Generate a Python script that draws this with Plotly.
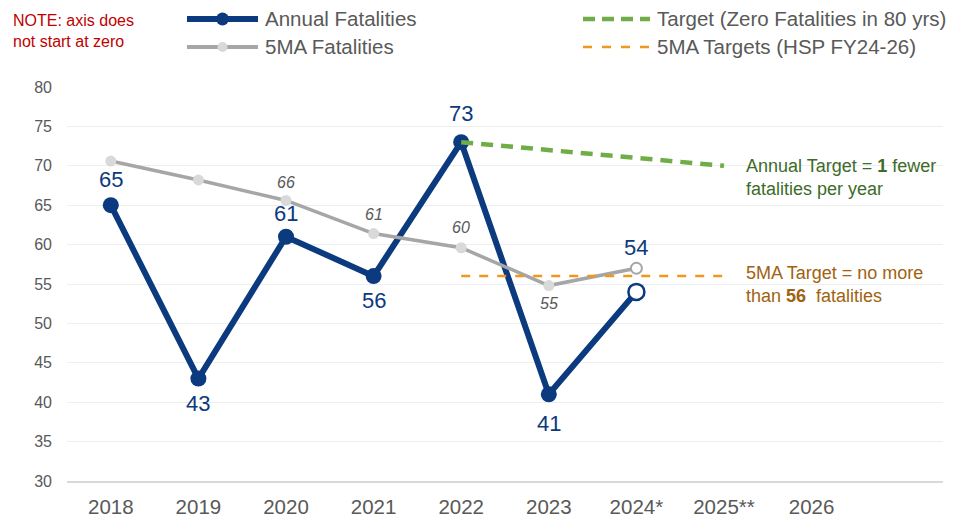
import plotly.graph_objects as go

# --- data -------------------------------------------------------------
years = ["2018", "2019", "2020", "2021", "2022", "2023", "2024*", "2025**", "2026"]

annual_years = ["2018", "2019", "2020", "2021", "2022", "2023", "2024*"]
annual_fatalities = [65, 43, 61, 56, 73, 41, 54]

ma_years = ["2018", "2019", "2020", "2021", "2022", "2023", "2024*"]
ma_fatalities = [70.6, 68.2, 65.6, 61.4, 59.6, 54.8, 57.0]
ma_labelled = [False, False, True, True, True, True, False]

target_years = ["2022", "2023", "2024*", "2025**"]
target_values = [73, 72, 71, 70]

ma_target_years = ["2022", "2023", "2024*", "2025**"]
ma_target_values = [56, 56, 56, 56]

# --- styling ----------------------------------------------------------
NAVY = "#0B3A7E"
GRAY_LINE = "#A6A6A6"
GRAY_DOT = "#D9D9D9"
GREEN = "#70AD47"
ORANGE = "#F0981E"
TEXT = "#595959"
FONT = "Liberation Sans, Arial, sans-serif"

W, H = 966, 517
ML, MR, MT, MB = 67, 23, 87, 36
PW, PH = W - ML - MR, H - MT - MB


def px(x):
    return (x - ML) / PW


def py(y):
    return (H - MB - y) / PH


def cat(label):
    # position of a category on the x axis
    return years.index(label)


fig = go.Figure()

# the last point of each measured series is provisional -> hollow marker
n = len(annual_fatalities)
fig.add_trace(go.Scatter(
    x=annual_years, y=annual_fatalities, mode="lines+markers",
    line=dict(color=NAVY, width=6),
    marker=dict(size=16, color=[NAVY] * (n - 1) + ["white"],
                line=dict(color=NAVY, width=[0] * (n - 1) + [2.5])),
    showlegend=False, hoverinfo="x+y"))

m = len(ma_fatalities)
fig.add_trace(go.Scatter(
    x=ma_years, y=ma_fatalities, mode="lines+markers",
    line=dict(color=GRAY_LINE, width=3.5),
    marker=dict(size=11, color=[GRAY_DOT] * (m - 1) + ["white"],
                line=dict(color=GRAY_LINE, width=[0] * (m - 1) + [2])),
    showlegend=False, hoverinfo="x+y"))

fig.add_trace(go.Scatter(
    x=target_years, y=target_values, mode="lines",
    line=dict(color=GREEN, width=4.5, dash="12px,8px"),
    showlegend=False, hoverinfo="x+y"))

fig.add_trace(go.Scatter(
    x=ma_target_years, y=ma_target_values, mode="lines",
    line=dict(color=ORANGE, width=2.5, dash="9px,9px"),
    showlegend=False, hoverinfo="x+y"))

annotations = []

# value labels on the annual series (above / below the point)
annual_shift = [26, -25, 23, -24, 29, -29, 44]
for x, v, s in zip(annual_years, annual_fatalities, annual_shift):
    annotations.append(dict(x=cat(x), y=v, text=str(v), showarrow=False,
                            yshift=s, font=dict(family=FONT, size=22, color=NAVY)))

# value labels on the moving average
ma_shift = [0, 0, 18, 19, 20, -18, 0]
for x, v, lab, s in zip(ma_years, ma_fatalities, ma_labelled, ma_shift):
    if lab:
        annotations.append(dict(x=cat(x), y=v, text=f"<i>{round(v)}</i>", showarrow=False,
                                yshift=s, font=dict(family=FONT, size=16, color=TEXT)))

# note in the top-left corner
annotations.append(dict(xref="paper", yref="paper", x=px(11), y=py(10),
                        xanchor="left", yanchor="top", align="left", showarrow=False,
                        text="NOTE: axis does<br>not start at zero",
                        font=dict(family=FONT, size=16, color="#C00000")))

# target call-outs
annotations.append(dict(xref="paper", yref="paper", x=px(744), y=py(177),
                        xanchor="left", yanchor="middle", align="left", showarrow=False,
                        text="Annual Target = <b>1</b> fewer<br>fatalities per year",
                        font=dict(family=FONT, size=18, color="#3D6B2A")))
annotations.append(dict(xref="paper", yref="paper", x=px(744), y=py(284),
                        xanchor="left", yanchor="middle", align="left", showarrow=False,
                        text="5MA Target = no more<br>than <b>56</b>\u00a0 fatalities",
                        font=dict(family=FONT, size=18, color="#A0620F")))

# legend
shapes = []
legend_rows = [
    (187, 258, 19, "Annual Fatalities", dict(color=NAVY, width=6), NAVY, 6.5),
    (187, 258, 47, "5MA Fatalities", dict(color=GRAY_LINE, width=4), GRAY_DOT, 5),
    (583, 650, 19, "Target (Zero Fatalities in 80 yrs)", dict(color=GREEN, width=4.5, dash="12px,7px"), None, 0),
    (583, 650, 47, "5MA Targets (HSP FY24-26)", dict(color=ORANGE, width=2.5, dash="9px,10px"), None, 0),
]
for x0, x1, yy, label, ln, dot, r in legend_rows:
    shapes.append(dict(type="line", xref="paper", yref="paper",
                       x0=px(x0), x1=px(x1), y0=py(yy), y1=py(yy), line=ln))
    if dot:
        cx = (x0 + x1) / 2
        shapes.append(dict(type="circle", xref="paper", yref="paper",
                           x0=px(cx - r), x1=px(cx + r), y0=py(yy + r), y1=py(yy - r),
                           fillcolor=dot, line=dict(width=0)))
    annotations.append(dict(xref="paper", yref="paper", x=px(x1 + 5), y=py(yy),
                            xanchor="left", yanchor="middle", showarrow=False, text=label,
                            font=dict(family=FONT, size=20.5, color=TEXT)))

fig.update_layout(
    width=W, height=H,
    margin=dict(l=ML, r=MR, t=MT, b=MB, autoexpand=False),
    paper_bgcolor="white", plot_bgcolor="white",
    showlegend=False,
    annotations=annotations, shapes=shapes,
    xaxis=dict(type="category", categoryorder="array", categoryarray=years,
               tickvals=years, range=[-0.5, 9.5], showgrid=False,
               showline=True, linecolor="#D9D9D9", linewidth=2,
               ticks="", ticklabelstandoff=6, automargin=False,
               tickfont=dict(family=FONT, size=20.5, color=TEXT),
               fixedrange=True),
    yaxis=dict(range=[30, 80], dtick=5, tick0=30, showgrid=True,
               gridcolor="#EEEEEE", gridwidth=1, zeroline=False, showline=False,
               ticks="", ticklabelstandoff=14, automargin=False,
               tickfont=dict(family=FONT, size=16, color=TEXT),
               fixedrange=True),
)

fig.write_html("out.html")
